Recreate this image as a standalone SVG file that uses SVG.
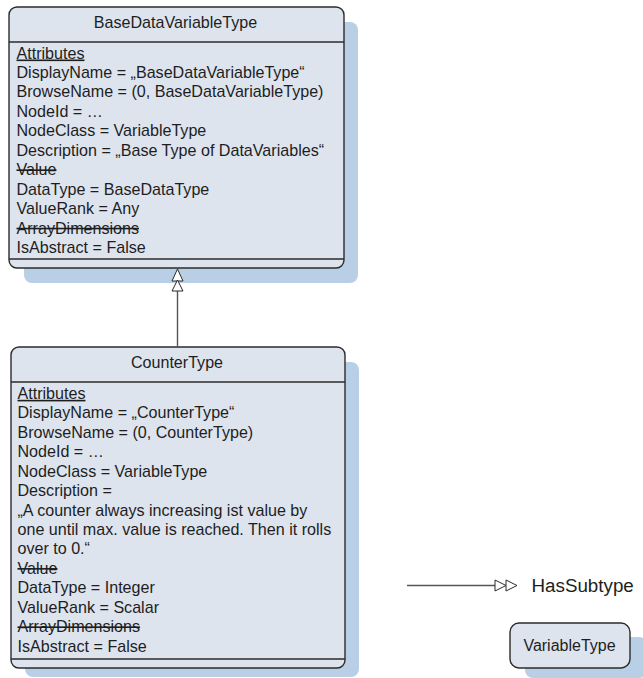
<svg xmlns="http://www.w3.org/2000/svg" width="643" height="678" viewBox="0 0 643 678">
<style>
.shadow{fill:#b9cfe6;stroke:none}
.box{fill:#dde4ee;stroke:#2b2b2b;stroke-width:1.4}
.div{stroke:#2b2b2b;stroke-width:1.4}
text{font-family:"Liberation Sans",Arial,sans-serif;fill:#1e1e1e}
.t{font-size:16.1px}
.title{font-size:16.1px;text-anchor:middle}
.u{text-decoration:underline}
.s{text-decoration:line-through}
.edge{stroke:#555;stroke-width:1.4;fill:none}
.head{fill:#ffffff;stroke:#2b2b2b;stroke-width:1}
</style>
<rect width="643" height="678" fill="#ffffff"/>
<g id="BaseDataVariableType">
<rect class="shadow" x="24" y="22" width="334" height="261" rx="8"/>
<rect class="box" x="9" y="7" width="335" height="261" rx="8"/>
<line class="div" x1="9" y1="42" x2="344" y2="42"/>
<line class="div" x1="9" y1="259" x2="344" y2="259"/>
<text class="title" x="175.5" y="28.2">BaseDataVariableType</text>
<text class="t u" x="16.5" y="58.5">Attributes</text>
<text class="t" x="16.5" y="77.95">DisplayName = „BaseDataVariableType“</text>
<text class="t" x="16.5" y="97.4">BrowseName = (0, BaseDataVariableType)</text>
<text class="t" x="16.5" y="116.85">NodeId = …</text>
<text class="t" x="16.5" y="136.3">NodeClass = VariableType</text>
<text class="t" x="16.5" y="155.75">Description = „Base Type of DataVariables“</text>
<text class="t s" x="16.5" y="175.2">Value</text>
<text class="t" x="16.5" y="194.65">DataType = BaseDataType</text>
<text class="t" x="16.5" y="214.1">ValueRank = Any</text>
<text class="t s" x="16.5" y="233.55">ArrayDimensions</text>
<text class="t" x="16.5" y="253">IsAbstract = False</text>
</g>
<g id="CounterType">
<rect class="shadow" x="25" y="362" width="334" height="315" rx="8"/>
<rect class="box" x="11" y="347" width="334" height="321" rx="8"/>
<line class="div" x1="11" y1="382" x2="345" y2="382"/>
<line class="div" x1="11" y1="659" x2="345" y2="659"/>
<text class="title" x="177" y="367.5">CounterType</text>
<text class="t u" x="17.5" y="398.8">Attributes</text>
<text class="t" x="17.5" y="418.25">DisplayName = „CounterType“</text>
<text class="t" x="17.5" y="437.7">BrowseName = (0, CounterType)</text>
<text class="t" x="17.5" y="457.15">NodeId = …</text>
<text class="t" x="17.5" y="476.6">NodeClass = VariableType</text>
<text class="t" x="17.5" y="496.05">Description =</text>
<text class="t" x="17.5" y="515.5">„A counter always increasing ist value by</text>
<text class="t" x="17.5" y="534.95">one until max. value is reached. Then it rolls</text>
<text class="t" x="17.5" y="554.4">over to 0.“</text>
<text class="t s" x="17.5" y="573.85">Value</text>
<text class="t" x="17.5" y="593.3">DataType = Integer</text>
<text class="t" x="17.5" y="612.75">ValueRank = Scalar</text>
<text class="t s" x="17.5" y="632.2">ArrayDimensions</text>
<text class="t" x="17.5" y="651.65">IsAbstract = False</text>
</g>
<g id="connectors">
<line class="edge" x1="177.5" y1="291" x2="177.5" y2="347"/>
<polygon class="head" points="177.5,269 172,281 183,281"/>
<polygon class="head" points="177.5,280 172,291 183,291"/>
</g>
<g id="legend-hassubtype">
<line class="edge" x1="407" y1="585.5" x2="495" y2="585.5"/>
<polygon class="head" points="495,580 495,591 506,585.5"/>
<polygon class="head" points="506,580 506,591 517,585.5"/>
<text x="531.5" y="592" style="font-size:18.8px">HasSubtype</text>
</g>
<g id="legend-variabletype">
<rect class="shadow" x="525" y="637" width="122" height="41" rx="8"/>
<rect class="box" x="510" y="623" width="120" height="45" rx="9"/>
<text x="569.5" y="650.5" style="font-size:16px;text-anchor:middle">VariableType</text>
</g>
</svg>
